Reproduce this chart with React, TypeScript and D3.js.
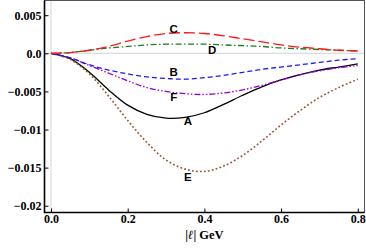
import React, { useRef, useEffect } from "react";
import * as d3 from "d3";

// |l| in GeV
const momenta = [0, 0.05, 0.1, 0.15, 0.2, 0.25, 0.3, 0.35, 0.4, 0.45, 0.5, 0.55, 0.6, 0.65, 0.7, 0.75, 0.8];

const curveA = [0, -0.0007, -0.0025, -0.0048, -0.0068, -0.008, -0.0085, -0.0084, -0.0078, -0.0067, -0.0055, -0.0044, -0.0035, -0.0028, -0.0022, -0.0018, -0.0014];
const curveB = [0, -0.0006, -0.0015, -0.0022, -0.0027, -0.0031, -0.0033, -0.0034, -0.0032, -0.0029, -0.0025, -0.0021, -0.0018, -0.0015, -0.0012, -0.0009, -0.0007];
const curveC = [0, 0.0001, 0.0004, 0.0009, 0.0016, 0.0022, 0.0026, 0.0027, 0.0026, 0.0023, 0.0019, 0.0015, 0.0011, 0.0008, 0.0006, 0.0004, 0.0003];
const curveD = [0, 0.0001, 0.0004, 0.0007, 0.0009, 0.0011, 0.0012, 0.0012, 0.0012, 0.0011, 0.001, 0.0009, 0.0007, 0.0006, 0.0005, 0.0004, 0.0003];
const curveE = [0, -0.0008, -0.0027, -0.0056, -0.0088, -0.0117, -0.014, -0.0152, -0.0155, -0.0148, -0.0134, -0.0115, -0.0094, -0.0075, -0.0058, -0.0045, -0.0034];
const curveF = [0, -0.0006, -0.0016, -0.0026, -0.0036, -0.0045, -0.005, -0.0053, -0.0054, -0.0052, -0.0048, -0.0042, -0.0035, -0.0028, -0.0023, -0.0019, -0.0016];

const xTicks = [0, 0.2, 0.4, 0.6, 0.8];
const xTickLabels = ["0.0", "0.2", "0.4", "0.6", "0.8"];
const yTicks = [0.005, 0, -0.005, -0.01, -0.015, -0.02];
const yTickLabels = ["0.005", "0.0", "\u22120.005", "\u22120.01", "\u22120.015", "\u22120.02"];

// label name, anchor point (x, value)
const labels: [string, number, number][] = [
  ["C", 0.32, 0.0032],
  ["D", 0.42, 0.0004],
  ["B", 0.32, -0.0025],
  ["F", 0.32, -0.0057],
  ["A", 0.357, -0.0089],
  ["E", 0.357, -0.0162],
];

const series = [
  { values: curveA, color: "#000000", dash: null, width: 1.3 },
  { values: curveE, color: "#a0522d", dash: "1.8,2.2", width: 1.6 },
  { values: curveF, color: "#9400d3", dash: "6,2,1.5,2,1.5,2", width: 1.3 },
  { values: curveB, color: "#1a1aff", dash: "5,3", width: 1.3 },
  { values: curveD, color: "#1f7a1f", dash: "6,2.5,1.5,2.5", width: 1.3 },
  { values: curveC, color: "#ff1a1a", dash: "11,4", width: 1.3 },
];

const W = 366, H = 248;
const left = 44.5, right = 364.5, top = 0.5, bottom = 212.5;
const serif = "'Liberation Serif', 'Times New Roman', serif";

export default function App() {
  const svgRef = useRef<SVGSVGElement>(null);

  useEffect(() => {
    const svg = d3.select(svgRef.current);
    svg.selectAll("*").remove();

    const x = d3.scaleLinear().domain([-0.01695, 0.8175]).range([left, right]);
    const y = d3.scaleLinear().domain([-0.02089, 0.00693]).range([bottom, top]);

    // origin axes in light grey
    svg.append("line")
      .attr("x1", x(0)).attr("x2", x(0)).attr("y1", top).attr("y2", bottom)
      .attr("stroke", "#dcdcdc").attr("stroke-width", 1.2);
    svg.append("line")
      .attr("x1", left).attr("x2", right).attr("y1", y(0)).attr("y2", y(0))
      .attr("stroke", "#dcdcdc").attr("stroke-width", 1.2);

    const line = d3.line<number>()
      .x((d, i) => x(momenta[i]))
      .y((d) => y(d))
      .curve(d3.curveCatmullRom.alpha(0.5));

    series.forEach((s) => {
      svg.append("path")
        .datum(s.values)
        .attr("d", line)
        .attr("fill", "none")
        .attr("stroke", s.color)
        .attr("stroke-width", s.width)
        .attr("stroke-dasharray", s.dash);
    });

    // frame
    svg.append("rect")
      .attr("x", left).attr("y", top)
      .attr("width", right - left).attr("height", bottom - top)
      .attr("fill", "none").attr("stroke", "#555").attr("stroke-width", 1);
    svg.append("path")
      .attr("d", `M${left},${top}V${bottom}H${right}`)
      .attr("fill", "none").attr("stroke", "#000").attr("stroke-width", 1.6);

    const xAxis = d3.axisBottom(x).tickValues(xTicks)
      .tickSize(-4).tickPadding(2)
      .tickFormat((d, i) => xTickLabels[i]);
    const gx = svg.append("g").attr("transform", `translate(0,${bottom})`).call(xAxis);
    gx.select(".domain").remove();

    const yAxis = d3.axisLeft(y).tickValues(yTicks)
      .tickSize(-4).tickPadding(3)
      .tickFormat((d, i) => yTickLabels[i]);
    const gy = svg.append("g").attr("transform", `translate(${left},0)`).call(yAxis);
    gy.select(".domain").remove();

    svg.selectAll("g").attr("font-family", null);
    svg.selectAll(".tick line").attr("stroke", "#000").attr("stroke-width", 1);
    svg.selectAll(".tick text")
      .attr("fill", "#000")
      .attr("font-family", serif)
      .attr("font-weight", "bold")
      .attr("font-size", 12);

    // x axis title
    const title = svg.append("text")
      .attr("x", (left + right) / 2)
      .attr("y", 239)
      .attr("text-anchor", "middle")
      .attr("font-family", serif)
      .attr("font-weight", "bold")
      .attr("font-size", 12.5);
    title.append("tspan").text("|");
    title.append("tspan").attr("font-style", "italic").text("\u2113");
    title.append("tspan").text("| GeV");

    svg.selectAll(".curve-label")
      .data(labels)
      .join("text")
      .attr("class", "curve-label")
      .attr("x", (d) => x(d[1]))
      .attr("y", (d) => y(d[2]))
      .attr("text-anchor", "middle")
      .attr("dominant-baseline", "central")
      .attr("font-family", "'Liberation Sans', Arial, sans-serif")
      .attr("font-weight", "bold")
      .attr("font-size", 11.5)
      .text((d) => d[0]);
  }, []);

  return (
    <svg
      ref={svgRef}
      width={W}
      height={H}
      style={{ position: "absolute", left: 0, top: 0, background: "#fff" }}
    />
  );
}
